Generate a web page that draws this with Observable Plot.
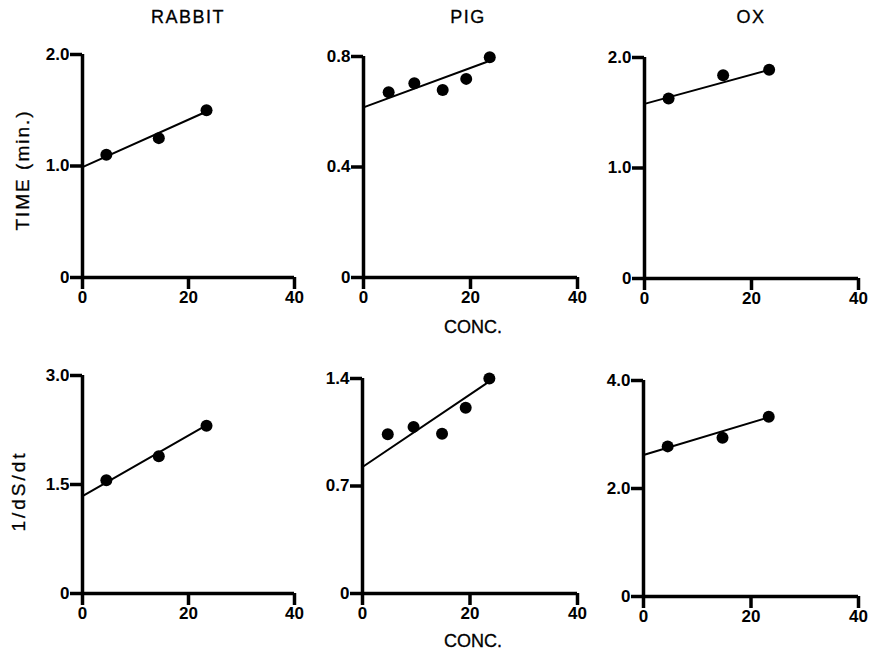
<!DOCTYPE html>
<html>
<head>
<meta charset="utf-8">
<script src="https://cdn.jsdelivr.net/npm/d3@7"></script>
<script src="https://cdn.jsdelivr.net/npm/@observablehq/plot@0.6"></script>
<style>
  html, body { margin: 0; padding: 0; background: #fff; }
  #chart { position: relative; width: 872px; height: 650px; background: #fff; font-family: "Liberation Sans", Arial, Helvetica, sans-serif; color: #000; }
  .panel { position: absolute; }
  .lbl { position: absolute; font-size: 18px; line-height: 18px; white-space: nowrap; color: #000; -webkit-text-stroke: 0.3px #000; }
</style>
</head>
<body>
<div id="chart"></div>
<script>
// ---- data ----
const species = ["RABBIT", "PIG", "OX"];
const rowLabels = ["TIME (min.)", "1/dS/dt"];
const xLabel = "CONC.";
const xTicks = [0, 20, 40];

const rabbitConc = [4.5, 14.4, 23.4];
const rabbitTime = [1.10, 1.25, 1.50];
const rabbitRate = [1.56, 1.89, 2.31];

const pigConc = [4.7, 9.5, 14.8, 19.2, 23.6];
const pigTime = [0.671, 0.703, 0.679, 0.719, 0.797];
const pigRate = [1.037, 1.085, 1.04, 1.21, 1.40];

const oxConc = [4.5, 14.7, 23.3];
const oxTime = [1.63, 1.84, 1.89];
const oxRate = [2.78, 2.94, 3.33];

// fitted line end points (x = 0 and x = 23)
const fitX = [0, 23];
const rabbitTimeFit = [0.99, 1.48];
const rabbitRateFit = [1.34, 2.30];
const pigTimeFit = [0.616, 0.78];
const pigRateFit = [0.824, 1.367];
const oxTimeFit = [1.58, 1.885];
const oxRateFit = [2.62, 3.31];

// y tick values per panel
const rabbitTimeTicks = [0, 1.0, 2.0];
const pigTimeTicks = [0, 0.4, 0.8];
const oxTimeTicks = [0, 1.0, 2.0];
const rabbitRateTicks = [0, 1.5, 3.0];
const pigRateTicks = [0, 0.7, 1.4];
const oxRateTicks = [0, 2.0, 4.0];

// ---- layout (pixel placement of each panel) ----
const layout = [
  {x0: 82,  x40: 294, zero: 277, top: 54},
  {x0: 363, x40: 577, zero: 277, top: 56},
  {x0: 644, x40: 858, zero: 278, top: 57},
  {x0: 82,  x40: 294, zero: 593, top: 375},
  {x0: 362, x40: 577, zero: 593, top: 378},
  {x0: 643, x40: 858, zero: 596, top: 380}
];

const panels = [
  {conc: rabbitConc, vals: rabbitTime, fit: rabbitTimeFit, ticks: rabbitTimeTicks},
  {conc: pigConc, vals: pigTime, fit: pigTimeFit, ticks: pigTimeTicks},
  {conc: oxConc, vals: oxTime, fit: oxTimeFit, ticks: oxTimeTicks},
  {conc: rabbitConc, vals: rabbitRate, fit: rabbitRateFit, ticks: rabbitRateTicks},
  {conc: pigConc, vals: pigRate, fit: pigRateFit, ticks: pigRateTicks},
  {conc: oxConc, vals: oxRate, fit: oxRateFit, ticks: oxRateTicks}
];

const chart = document.getElementById("chart");
const ML = 60, MR = 22, MT = 15, MB = 34;
const fmt = d => d === 0 ? "0" : d.toFixed(1);

panels.forEach((p, i) => {
  const L = layout[i];
  const ymax = p.ticks[p.ticks.length - 1];
  const pts = p.conc.map((c, j) => ({x: c, y: p.vals[j]}));
  const fit = fitX.map((x, j) => ({x, y: p.fit[j]}));
  const w = ML + (L.x40 - L.x0) + MR;
  const h = MT + (L.zero - L.top) + MB;
  const svg = Plot.plot({
    width: w, height: h,
    marginLeft: ML, marginRight: MR, marginTop: MT, marginBottom: MB,
    style: {background: "transparent", overflow: "visible", fontFamily: "'Liberation Sans', Arial, Helvetica, sans-serif", color: "#000"},
    x: {domain: [0, 40], label: null},
    y: {domain: [0, ymax], label: null},
    marks: [
      Plot.axisY(p.ticks, {tickSize: 12, tickPadding: 1, strokeWidth: 3.5, tickFormat: fmt, label: null, fontSize: 17, fontWeight: "bold"}),
      Plot.axisX(xTicks, {tickSize: 12, tickPadding: 1, strokeWidth: 3.5, label: null, fontSize: 17, fontWeight: "bold"}),
      Plot.ruleX([0], {y1: 0, y2: ymax, strokeWidth: 3.5}),
      Plot.ruleY([0], {x1: 0, x2: 40, strokeWidth: 3.5}),
      Plot.line(fit, {x: "x", y: "y", stroke: "#000", strokeWidth: 2}),
      Plot.dot(pts, {x: "x", y: "y", r: 6, fill: "#000", stroke: "none"})
    ]
  });
  const div = document.createElement("div");
  div.className = "panel";
  div.style.left = (L.x0 - ML) + "px";
  div.style.top = (L.top - MT) + "px";
  div.style.width = w + "px";
  div.appendChild(svg);
  chart.appendChild(div);
});

// ---- text labels ----
function addLabel(text, cx, baseline, opts = {}) {
  const d = document.createElement("div");
  d.className = "lbl";
  d.textContent = text;
  if (opts.spacing) d.style.letterSpacing = opts.spacing;
  d.style.left = cx + "px";
  d.style.top = (baseline - 15) + "px";
  d.style.transform = "translateX(-50%)";
  chart.appendChild(d);
}
function addRotated(text, cx, cy, spacing) {
  const d = document.createElement("div");
  d.className = "lbl";
  d.textContent = text;
  d.style.fontSize = "19px";
  if (spacing) d.style.letterSpacing = spacing;
  d.style.left = cx + "px";
  d.style.top = cy + "px";
  d.style.transform = "translate(-50%, -50%) rotate(-90deg)";
  chart.appendChild(d);
}
const titleX = [188, 468, 751];
species.forEach((s, i) => addLabel(s, titleX[i], 23, {spacing: "1.5px"}));
addLabel(xLabel, 473, 333);
addLabel(xLabel, 473, 647);
addRotated(rowLabels[0], 23, 170, "2px");
addRotated(rowLabels[1], 19, 491, "3px");
</script>
</body>
</html>
